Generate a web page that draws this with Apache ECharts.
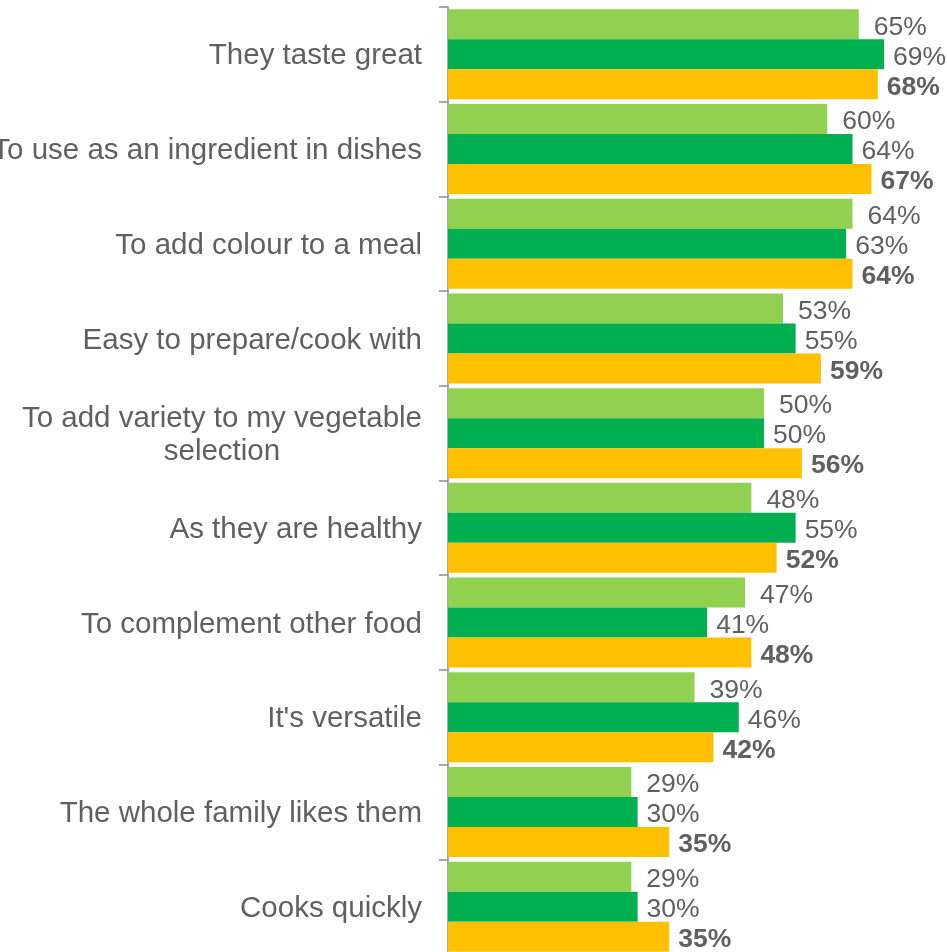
<!DOCTYPE html>
<html><head><meta charset="utf-8">
<script src="https://cdn.jsdelivr.net/npm/echarts@6/dist/echarts.min.js"></script>
<style>html,body{margin:0;padding:0;background:#fff}#c{width:947px;height:952px}</style>
</head><body><div id="c"></div>
<script>
const categories = ["They taste great","To use as an ingredient in dishes","To add colour to a meal","Easy to prepare/cook with","To add variety to my vegetable\nselection","As they are healthy","To complement other food","It's versatile","The whole family likes them","Cooks quickly"];
const series1 = [65,60,64,53,50,48,47,39,29,29];
const series2 = [69,64,63,55,50,55,41,46,30,30];
const series3 = [68,67,64,59,56,52,48,42,35,35];
const colors = ["#92D050","#00B050","#FFC000"];
const textColor = "#606060";
const font = "Liberation Sans, Arial, sans-serif";

const chart = echarts.init(document.getElementById('c'));
function mk(data, color, bold, dist){
  return {type:'bar', data:data, barGap:'0%', barCategoryGap:'5%',
    itemStyle:{color:color},
    label:{show:true, position:'right', distance:dist, formatter:'{c}%', color:textColor,
      fontSize:26.5, fontFamily:font, fontWeight: bold?'bold':'normal', offset:[0,3]},
    animation:false};
}
chart.setOption({
  animation:false,
  grid:{left:448, right:6, top:7, height:947, containLabel:false, outerBoundsMode:'none'},
  xAxis:{type:'value', min:0, max:78, show:false},
  yAxis:{type:'category', inverse:true, data:categories,
    axisLine:{show:true, lineStyle:{color:'#8c8c8c', width:1.5}},
    axisTick:{show:true, length:9, lineStyle:{color:'#8c8c8c', width:1.5}},
    axisLabel:{margin:26, color:textColor, fontSize:29.5, fontFamily:font, padding:[4,0,0,0],
      formatter:function(v){
        const lines = v.split('\n');
        if(lines.length>1) return lines.map(l=>'{c|'+l+'}').join('\n');
        return v;
      },
      rich:{c:{align:'center', fontSize:29.5, fontFamily:font, color:textColor, lineHeight:33}}
    }},
  series:[mk(series1,colors[0],false,15), mk(series2,colors[1],false,9), mk(series3,colors[2],true,9)]
});
</script></body></html>
